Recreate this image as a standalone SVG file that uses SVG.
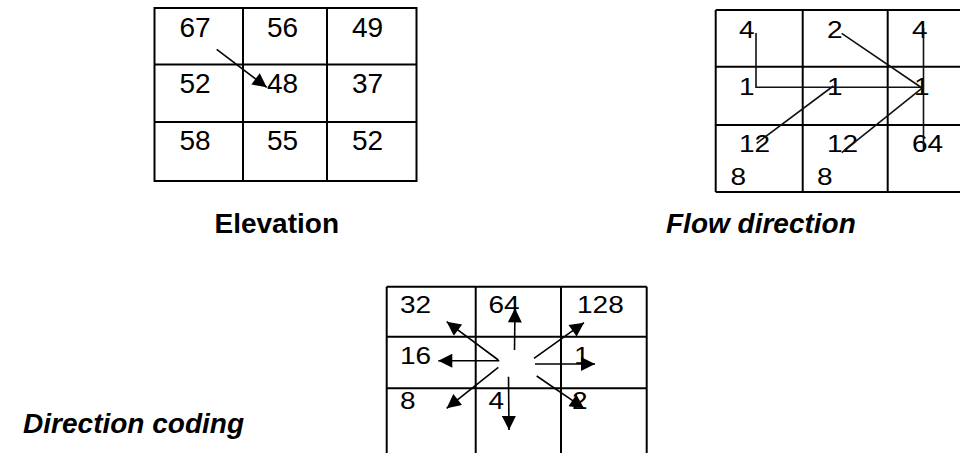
<svg xmlns="http://www.w3.org/2000/svg" width="960" height="453" viewBox="0 0 960 453">
<style>
.grid{stroke:#000;stroke-width:2;fill:none}
.num{font-family:"Liberation Sans",Arial,sans-serif;font-size:28px;fill:#000}
.sq{font-family:"Liberation Sans",Arial,sans-serif;font-size:28px;fill:#000}
.lbl{font-family:"Liberation Sans",Arial,sans-serif;font-size:28px;font-weight:bold;fill:#000}
.it{font-style:italic}
.ln{stroke:#111;stroke-width:1.6;fill:none}
.ar{stroke:#000;stroke-width:1.6;fill:none;marker-end:url(#ah)}
</style>
<defs>
<marker id="ah" viewBox="0 0 10 10" refX="10" refY="5" markerWidth="16" markerHeight="14" markerUnits="userSpaceOnUse" orient="auto">
<path d="M0,0 L10,5 L0,10 z" fill="#000"/>
</marker>
</defs>
<rect width="960" height="453" fill="#fff"/>

<g id="elevation">
<rect class="grid" x="154.5" y="8" width="262" height="173"/>
<line class="grid" x1="243" y1="8" x2="243" y2="181"/>
<line class="grid" x1="327" y1="8" x2="327" y2="181"/>
<line class="grid" x1="154.5" y1="64.5" x2="416.5" y2="64.5"/>
<line class="grid" x1="154.5" y1="122" x2="416.5" y2="122"/>
<text class="num" x="179.5" y="37">67</text>
<text class="num" x="267" y="37">56</text>
<text class="num" x="352" y="37">49</text>
<text class="num" x="179.5" y="93">52</text>
<text class="num" x="267" y="93">48</text>
<text class="num" x="352" y="93">37</text>
<text class="num" x="179.5" y="150">58</text>
<text class="num" x="267" y="150">55</text>
<text class="num" x="352" y="150">52</text>
<text class="lbl" x="214.5" y="233">Elevation</text>
</g>

<g id="flow-direction">
<line class="grid" x1="715.7" y1="10" x2="960" y2="10"/>
<line class="grid" x1="715.7" y1="66.7" x2="960" y2="66.7"/>
<line class="grid" x1="715.7" y1="125" x2="960" y2="125"/>
<line class="grid" x1="715.7" y1="192" x2="960" y2="192"/>
<line class="grid" x1="715.7" y1="10" x2="715.7" y2="192"/>
<line class="grid" x1="802.7" y1="10" x2="802.7" y2="192"/>
<line class="grid" x1="887.7" y1="10" x2="887.7" y2="192"/>
<text class="sq" transform="translate(739 38.3) scale(1 0.88)">4</text>
<text class="sq" transform="translate(827 38.3) scale(1 0.88)">2</text>
<text class="sq" transform="translate(912 38.3) scale(1 0.88)">4</text>
<text class="sq" transform="translate(739 95) scale(1 0.88)">1</text>
<text class="sq" transform="translate(827 95) scale(1 0.88)">1</text>
<text class="sq" transform="translate(914 95) scale(1 0.88)">1</text>
<text class="sq" transform="translate(739 151.7) scale(1 0.88)">12</text>
<text class="sq" transform="translate(827 151.7) scale(1 0.88)">12</text>
<text class="sq" transform="translate(912 151.7) scale(1 0.88)">64</text>
<text class="sq" transform="translate(730.5 185) scale(1 0.88)">8</text>
<text class="sq" transform="translate(817 185) scale(1 0.88)">8</text>
<text class="lbl it" x="666" y="233">Flow direction</text>
</g>

<g id="direction-coding">
<line class="grid" x1="386.7" y1="286.7" x2="646.7" y2="286.7"/>
<line class="grid" x1="386.7" y1="336.7" x2="646.7" y2="336.7"/>
<line class="grid" x1="386.7" y1="388.3" x2="646.7" y2="388.3"/>
<line class="grid" x1="386.7" y1="286.7" x2="386.7" y2="453"/>
<line class="grid" x1="475.7" y1="286.7" x2="475.7" y2="453"/>
<line class="grid" x1="561" y1="286.7" x2="561" y2="453"/>
<line class="grid" x1="646.7" y1="286.7" x2="646.7" y2="453"/>
<text class="sq" transform="translate(400 313.3) scale(1 0.88)">32</text>
<text class="sq" transform="translate(488.5 313.3) scale(1 0.88)">64</text>
<text class="sq" transform="translate(577 313.3) scale(1 0.88)">128</text>
<text class="sq" transform="translate(400 364.3) scale(1 0.88)">16</text>
<text class="sq" transform="translate(574 364.3) scale(1 0.88)">1</text>
<text class="sq" transform="translate(400 409.3) scale(1 0.88)">8</text>
<text class="sq" transform="translate(488.5 409.3) scale(1 0.88)">4</text>
<text class="sq" transform="translate(572 409.3) scale(1 0.88)">2</text>
<text class="lbl it" x="244" y="433" text-anchor="end">Direction coding</text>
</g>

<g id="connectors">
<line class="ar" x1="216.7" y1="49.3" x2="266.7" y2="87.3"/>
<polyline class="ln" points="756,33 756,87.3 923,87.3"/>
<line class="ln" x1="841.7" y1="33.3" x2="922" y2="88"/>
<line class="ln" x1="756.7" y1="143.3" x2="833.3" y2="86"/>
<line class="ln" x1="841.7" y1="152.7" x2="923" y2="87.3"/>
<line class="ln" x1="923.5" y1="28" x2="923.5" y2="150"/>
<line class="ar" x1="514.5" y1="350" x2="515" y2="308.3"/>
<line class="ar" x1="498.3" y1="360" x2="446.7" y2="321.7"/>
<line class="ar" x1="534" y1="358.3" x2="584" y2="322.7"/>
<line class="ar" x1="499.3" y1="360.7" x2="438.3" y2="360.7"/>
<line class="ar" x1="535" y1="364" x2="595" y2="364"/>
<line class="ar" x1="498.3" y1="367.3" x2="446.7" y2="408.3"/>
<line class="ar" x1="508.5" y1="376.7" x2="509" y2="430"/>
<line class="ar" x1="536.7" y1="376" x2="584" y2="408.3"/>
</g>
</svg>
